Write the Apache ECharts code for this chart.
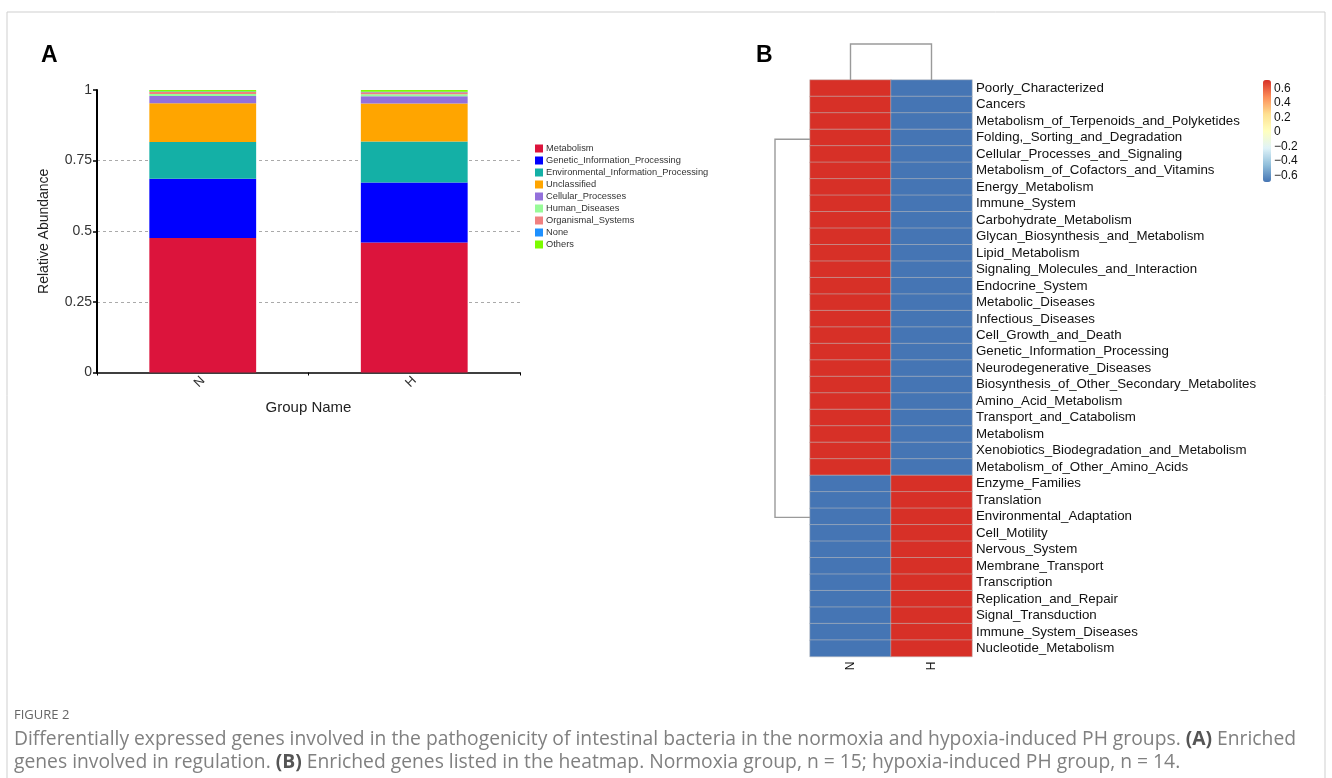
<!DOCTYPE html>
<html>
<head>
<meta charset="utf-8">
<script src="https://cdn.jsdelivr.net/npm/echarts@6/dist/echarts.min.js"></script>
<style>
  html, body { margin: 0; padding: 0; background: #fff; }
  #main { width: 1332px; height: 778px; }
</style>
</head>
<body>
<div id="main"></div>
<script>
// panel A: relative abundance per group
var groups = ['N', 'H'];
var categoryNames = ['Metabolism', 'Genetic_Information_Processing', 'Environmental_Information_Processing',
  'Unclassified', 'Cellular_Processes', 'Human_Diseases', 'Organismal_Systems', 'None', 'Others'];
var metabolism = [0.476, 0.460];
var geneticInfo = [0.210, 0.213];
var environmentalInfo = [0.130, 0.145];
var unclassified = [0.137, 0.134];
var cellularProcesses = [0.026, 0.026];
var humanDiseases = [0.007, 0.007];
var organismalSystems = [0.007, 0.007];
var noneCat = [0.002, 0.002];
var others = [0.005, 0.006];
var yTicks = [0, 0.25, 0.5, 0.75, 1];

// panel B: row-scaled heatmap
var pathways = ['Poorly_Characterized', 'Cancers', 'Metabolism_of_Terpenoids_and_Polyketides',
  'Folding,_Sorting_and_Degradation', 'Cellular_Processes_and_Signaling', 'Metabolism_of_Cofactors_and_Vitamins',
  'Energy_Metabolism', 'Immune_System', 'Carbohydrate_Metabolism', 'Glycan_Biosynthesis_and_Metabolism',
  'Lipid_Metabolism', 'Signaling_Molecules_and_Interaction', 'Endocrine_System', 'Metabolic_Diseases',
  'Infectious_Diseases', 'Cell_Growth_and_Death', 'Genetic_Information_Processing', 'Neurodegenerative_Diseases',
  'Biosynthesis_of_Other_Secondary_Metabolites', 'Amino_Acid_Metabolism', 'Transport_and_Catabolism',
  'Metabolism', 'Xenobiotics_Biodegradation_and_Metabolism', 'Metabolism_of_Other_Amino_Acids',
  'Enzyme_Families', 'Translation', 'Environmental_Adaptation', 'Cell_Motility', 'Nervous_System',
  'Membrane_Transport', 'Transcription', 'Replication_and_Repair', 'Signal_Transduction',
  'Immune_System_Diseases', 'Nucleotide_Metabolism'];
var nValues = [];
var hValues = [];
for (var k = 0; k < pathways.length; k++) {
  nValues.push(k < 24 ? 0.7071 : -0.7071);
  hValues.push(k < 24 ? -0.7071 : 0.7071);
}
var colorbarTicks = [-0.6, -0.4, -0.2, 0, 0.2, 0.4, 0.6];
var rowBranchPos = [3.1, 26.05];

var barColors = ['#DC143C', '#0000FF', '#14B0A6', '#FFA500', '#9370DB', '#98FB98', '#F08080', '#1E90FF', '#7CFC00'];
var barSeriesData = [metabolism, geneticInfo, environmentalInfo, unclassified, cellularProcesses,
  humanDiseases, organismalSystems, noneCat, others];

var heatData = [];
for (var i = 0; i < pathways.length; i++) {
  heatData.push([0, i, nValues[i]]);
  heatData.push([1, i, hValues[i]]);
}

var myChart = echarts.init(document.getElementById('main'));

var series = categoryNames.map(function (name, idx) {
  return {
    name: name,
    type: 'bar',
    stack: 'total',
    xAxisIndex: 0,
    yAxisIndex: 0,
    barWidth: '50.5%',
    itemStyle: { color: barColors[idx] },
    emphasis: { disabled: true },
    data: barSeriesData[idx]
  };
});

series.push({
  type: 'heatmap',
  xAxisIndex: 1,
  yAxisIndex: 1,
  data: heatData,
  itemStyle: { borderColor: 'rgba(190,190,190,0.9)', borderWidth: 0.6 },
  emphasis: { disabled: true }
});

// column dendrogram
series.push({
  type: 'custom',
  xAxisIndex: 1,
  yAxisIndex: 1,
  clip: false,
  silent: true,
  data: [[0, 0]],
  renderItem: function (params, api) {
    var pN = api.coord([0, 0]);
    var pH = api.coord([1, 0]);
    var cell = api.size([1, 1]);
    var top = pN[1] - cell[1] / 2;
    return {
      type: 'polyline',
      shape: { points: [[pN[0], top], [pN[0], top - 36], [pH[0], top - 36], [pH[0], top]] },
      style: { stroke: '#9a9a9a', lineWidth: 1.4, fill: null }
    };
  }
});

// row dendrogram
series.push({
  type: 'custom',
  xAxisIndex: 1,
  yAxisIndex: 1,
  clip: false,
  silent: true,
  data: [[0, 0]],
  renderItem: function (params, api) {
    var cell = api.size([1, 1]);
    var left = api.coord([0, 0])[0] - cell[0] / 2;
    function rowY(pos) {
      var a = Math.floor(pos);
      var ya = api.coord([0, a])[1];
      var yb = api.coord([0, a + 1])[1];
      return ya + (pos - a) * (yb - ya);
    }
    var y1 = rowY(rowBranchPos[0]);
    var y2 = rowY(rowBranchPos[1]);
    var xl = left - 35;
    return {
      type: 'polyline',
      shape: { points: [[left, y1], [xl, y1], [xl, y2], [left, y2]] },
      style: { stroke: '#9a9a9a', lineWidth: 1.4, fill: null }
    };
  }
});

myChart.setOption({
  animation: false,
  textStyle: { fontFamily: 'Liberation Sans, Arial, sans-serif' },
  graphic: [
    { type: 'rect', shape: { x: 7, y: 12, width: 1318, height: 820 },
      style: { fill: null, stroke: '#cfcfcf', lineWidth: 1 }, silent: true },
    { type: 'text', left: 41, top: 44, style: { text: 'A', font: 'bold 23px Liberation Sans', fill: '#000' } },
    { type: 'text', left: 756, top: 44, style: { text: 'B', font: 'bold 23px Liberation Sans', fill: '#000' } },
    { type: 'text', left: 14, top: 709, style: { text: 'FIGURE 2', font: '13px Open Sans', fill: '#666' } },
    { type: 'text', left: 14, top: 730, style: {
      text: 'Differentially expressed genes involved in the pathogenicity of intestinal bacteria in the normoxia and hypoxia-induced PH groups. {b|(A)} Enriched',
      font: '19.3px Open Sans', fill: '#808080',
      rich: { b: { font: 'bold 19.3px Open Sans', fill: '#555' } } } },
    { type: 'text', left: 14, top: 753, style: {
      text: 'genes involved in regulation. {b|(B)} Enriched genes listed in the heatmap. Normoxia group, n = 15; hypoxia-induced PH group, n = 14.',
      font: '19.3px Open Sans', fill: '#808080',
      rich: { b: { font: 'bold 19.3px Open Sans', fill: '#555' } } } }
  ],
  legend: {
    data: categoryNames,
    orient: 'vertical',
    left: 530,
    top: 139,
    itemWidth: 8,
    itemHeight: 8,
    itemGap: 3,
    icon: 'rect',
    textStyle: { fontSize: 9.3, color: '#333', padding: [0, 0, 0, -2] },
    selectedMode: false
  },
  visualMap: {
    type: 'continuous',
    seriesIndex: 9,
    min: -0.7071,
    max: 0.7071,
    orient: 'vertical',
    left: 1263,
    top: 80,
    itemWidth: 8,
    itemHeight: 102,
    calculable: false,
    showLabel: false,
    text: null,
    padding: 0,
    inRange: { color: ['#4575B4', '#91BFDB', '#E0F3F8', '#FFFFBF', '#FEE090', '#FC8D59', '#D73027'] }
  },
  grid: [
    { left: 97, top: 90, width: 423, height: 282.5 },
    { left: 810, top: 80, width: 162, height: 576.6 },
    { left: 1263, top: 81, width: 8, height: 102 }
  ],
  xAxis: [
    {
      gridIndex: 0,
      type: 'category',
      data: groups,
      name: 'Group Name',
      nameLocation: 'middle',
      nameGap: 28,
      nameTextStyle: { fontSize: 15, color: '#222' },
      axisLine: { lineStyle: { color: '#000', width: 1.6 } },
      axisTick: { show: true, length: 3, lineStyle: { color: '#000' } },
      axisLabel: { rotate: 45, fontSize: 13, color: '#333', margin: 6 }
    },
    {
      gridIndex: 1,
      type: 'category',
      data: groups,
      axisLine: { show: false },
      axisTick: { show: false },
      axisLabel: { rotate: 90, fontSize: 12, color: '#111', margin: 5 },
      splitLine: { show: false }
    },
    {
      gridIndex: 2,
      type: 'value',
      show: false
    }
  ],
  yAxis: [
    {
      gridIndex: 0,
      type: 'value',
      min: 0,
      max: 1,
      interval: 0.25,
      name: 'Relative Abundance',
      nameLocation: 'middle',
      nameGap: 46,
      nameTextStyle: { fontSize: 14, color: '#222' },
      axisLine: { show: true, lineStyle: { color: '#000', width: 2 } },
      axisTick: { show: true, length: 4, lineStyle: { color: '#000', width: 1.5 } },
      axisLabel: {
        fontSize: 14, color: '#333', margin: 5,
        formatter: function (v) { return yTicks.indexOf(v) >= 0 ? String(v) : ''; }
      },
      splitLine: {
        show: true, showMinLine: false, showMaxLine: false,
        lineStyle: { type: [3, 3], color: '#aaa', width: 1 }
      }
    },
    {
      gridIndex: 1,
      type: 'category',
      data: pathways,
      inverse: true,
      position: 'right',
      axisLine: { show: false },
      axisTick: { show: false },
      axisLabel: { interval: 0, fontSize: 13.3, color: '#111', margin: 4 },
      splitLine: { show: false }
    },
    {
      gridIndex: 2,
      type: 'value',
      min: -0.7071,
      max: 0.7071,
      position: 'right',
      axisLine: { show: false },
      axisTick: { show: false },
      splitLine: { show: false },
      axisLabel: {
        customValues: colorbarTicks,
        fontSize: 12, color: '#111', margin: 3,
        formatter: function (v) { return String(Math.round(v * 10) / 10).replace('-', '\u2212'); }
      }
    }
  ],
  series: series
});
</script>
</body>
</html>
